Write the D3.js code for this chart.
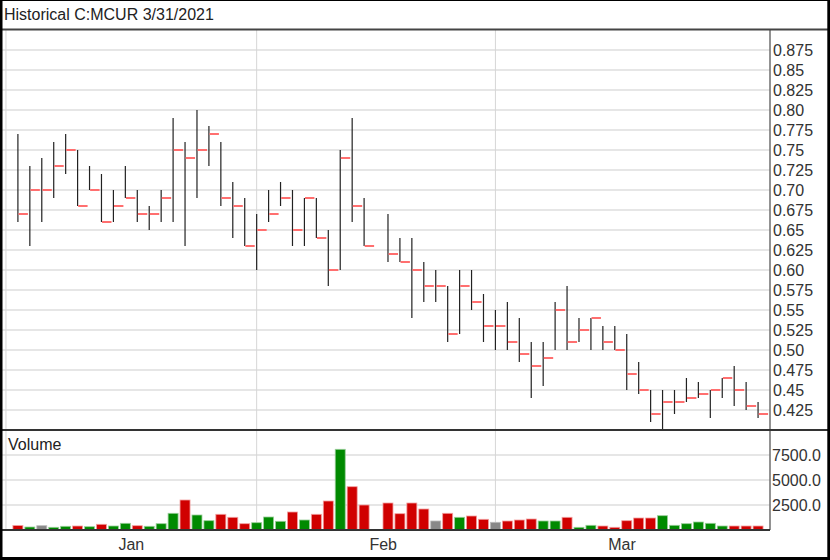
<!DOCTYPE html>
<html>
<head>
<meta charset="utf-8">
<script src="https://cdn.jsdelivr.net/npm/d3@7"></script>
<style>
  html, body { margin: 0; padding: 0; background: #fff; }
  svg { display: block; }
  text { font-family: "Liberation Sans", Arial, sans-serif; }
</style>
</head>
<body>
<svg id="chart" width="830" height="560"></svg>
<script>
// ---------- DATA ----------
const title = "Historical C:MCUR 3/31/2021";
// trading slots: every weekday from 2021-01-04 to 2021-03-31 (null = no trade, Feb 15)
const highs = [0.77,0.73,0.74,0.76,0.77,0.75,0.73,0.72,0.70,0.73,
               0.70,0.68,0.70,0.79,0.76,0.80,0.78,0.76,0.71,0.69,
               0.67,0.70,0.71,0.70,0.69,0.69,0.65,0.75,0.79,0.69,
               null,0.67,0.64,0.64,0.61,0.60,0.58,0.60,0.60,0.57,
               0.55,0.56,0.54,0.51,0.51,0.56,0.58,0.54,0.54,0.53,
               0.53,0.52,0.485,0.45,0.45,0.45,0.465,0.46,0.45,0.465,
               0.48,0.46,0.435];
const lows  = [0.66,0.63,0.66,0.69,0.72,0.68,0.70,0.66,0.66,0.69,
               0.66,0.65,0.66,0.66,0.63,0.69,0.73,0.68,0.64,0.63,
               0.60,0.66,0.68,0.63,0.63,0.64,0.58,0.60,0.66,0.63,
               null,0.61,0.61,0.54,0.56,0.56,0.51,0.52,0.55,0.51,
               0.50,0.50,0.485,0.44,0.455,0.50,0.50,0.51,0.50,0.50,
               0.50,0.45,0.445,0.41,0.40,0.42,0.435,0.44,0.415,0.44,
               0.43,0.425,0.415];
const closes = [0.67,0.70,0.70,0.73,0.75,0.68,0.70,0.66,0.68,0.69,
                0.67,0.67,0.69,0.75,0.74,0.75,0.77,0.69,0.68,0.63,
                0.65,0.67,0.69,0.65,0.69,0.64,0.60,0.74,0.68,0.63,
                null,0.62,0.61,0.60,0.58,0.58,0.52,0.58,0.56,0.53,
                0.53,0.51,0.495,0.48,0.49,0.55,0.51,0.525,0.54,0.51,
                0.50,0.47,0.45,0.42,0.435,0.435,0.44,0.445,0.45,0.465,
                0.45,0.43,0.42];
const volumes = [450,300,430,270,370,400,330,570,400,670,
                 430,370,630,1670,3000,1500,930,1570,1270,630,
                 730,1300,870,1800,1000,1570,2900,8070,4330,2500,
                 null,2700,1630,2700,2100,900,1670,1270,1400,1070,
                 770,900,1000,1100,900,900,1270,270,470,400,
                 270,930,1200,1200,1430,470,630,800,670,400,
                 400,400,400];
// u = up, d = down, n = unchanged
const volDir = ["d","u","n","u","u","d","u","d","u","u",
                "d","u","u","u","d","u","u","d","d","d",
                "u","u","u","d","u","d","d","u","d","d",
                null,"d","d","d","d","n","d","u","d","d",
                "n","d","d","d","u","u","d","u","u","d",
                "d","d","d","d","u","u","u","u","u","u",
                "d","d","d"];
const priceTicks = [0.875,0.85,0.825,0.80,0.775,0.75,0.725,0.70,0.675,0.65,0.625,
                    0.60,0.575,0.55,0.525,0.50,0.475,0.45,0.425];
const priceTickLabels = ["0.875","0.85","0.825","0.80","0.775","0.75","0.725","0.70","0.675","0.65","0.625",
                         "0.60","0.575","0.55","0.525","0.50","0.475","0.45","0.425"];
const volTicks = [7500, 5000, 2500];
const volTickLabels = ["7500.0", "5000.0", "2500.0"];
const monthLabels = ["Jan", "Feb", "Mar"];
const monthLabelSlot = [10.5, 31.6, 51.6];   // weekday slot where each month name sits

// ---------- SCALES ----------
// all weekdays of Q1 2021; slot 0 = Jan 1
const weekdays = d3.timeDay.range(new Date(2021,0,1), new Date(2021,3,1))
  .filter(d => d.getDay() !== 0 && d.getDay() !== 6);
const firstDataSlot = weekdays.findIndex(d => d.getDate() === 4 && d.getMonth() === 0);
const monthStartSlots = weekdays.map((d,i)=>({d,i}))
  .filter(o => o.i === 0 || weekdays[o.i-1].getMonth() !== o.d.getMonth()).map(o => o.i);

const W = 830, H = 560;
const plotRight = 770;
const x = d3.scaleLinear().domain([-0.5, 64]).range([0, plotRight]);
const yP = d3.scaleLinear().domain([0.40, 0.90]).range([430, 30]);
const yV = d3.scaleLinear().domain([0, 10000]).range([530, 430]);

const data = closes.map((c, k) => ({
  slot: firstDataSlot + k, high: highs[k], low: lows[k], close: c, vol: volumes[k], dir: volDir[k]
})).filter(d => d.close !== null);

const svg = d3.select("#chart");
svg.append("rect").attr("width", W).attr("height", H).attr("fill", "#fff");

const font = "16px";
const textCol = "#333";

// ---------- GRIDLINES ----------
const grid = svg.append("g");
grid.selectAll("line.hp").data(priceTicks).join("line")
  .attr("x1", 0).attr("x2", plotRight)
  .attr("y1", d => yP(d)).attr("y2", d => yP(d))
  .attr("stroke", "#e6e6e6").attr("stroke-width", 2);
grid.selectAll("line.hv").data(volTicks).join("line")
  .attr("x1", 0).attr("x2", plotRight)
  .attr("y1", d => yV(d)).attr("y2", d => yV(d))
  .attr("stroke", "#e6e6e6").attr("stroke-width", 2);
grid.selectAll("line.v").data(monthStartSlots).join("line")
  .attr("x1", d => x(d)).attr("x2", d => x(d))
  .attr("y1", 30).attr("y2", 530)
  .attr("stroke", "#d6d6d6").attr("stroke-width", 1);

// ---------- PRICE BARS ----------
const bars = svg.append("g");
bars.selectAll("line.hl").data(data).join("line")
  .attr("x1", d => x(d.slot)).attr("x2", d => x(d.slot))
  .attr("y1", d => yP(d.high)).attr("y2", d => yP(d.low))
  .attr("stroke", "#222").attr("stroke-width", 1.2);
bars.selectAll("line.cl").data(data).join("line")
  .attr("x1", d => x(d.slot) + 0.6).attr("x2", d => x(d.slot) + 10)
  .attr("y1", d => yP(d.close)).attr("y2", d => yP(d.close))
  .attr("stroke", "#ff6f6f").attr("stroke-width", 2);

// ---------- VOLUME BARS ----------
const fillFor = { u: "#008a00", d: "#d00000", n: "#888888" };
const strokeFor = { u: "#9acd9a", d: "#f2a0a0", n: "#bbbbbb" };
svg.append("g").selectAll("rect").data(data).join("rect")
  .attr("x", d => x(d.slot) - 5)
  .attr("width", 10)
  .attr("y", d => yV(d.vol))
  .attr("height", d => yV(0) - yV(d.vol))
  .attr("fill", d => fillFor[d.dir])
  .attr("stroke", d => strokeFor[d.dir]).attr("stroke-width", 0.8);

// ---------- AXES / FRAME LINES ----------
svg.append("line").attr("x1", plotRight).attr("x2", plotRight).attr("y1", 30).attr("y2", 530)
  .attr("stroke", "#6e6e6e").attr("stroke-width", 1.5);
svg.append("line").attr("x1", 0).attr("x2", plotRight).attr("y1", yV(0)).attr("y2", yV(0))
  .attr("stroke", "#333").attr("stroke-width", 2);
svg.append("line").attr("x1", 0).attr("x2", W).attr("y1", 430).attr("y2", 430)
  .attr("stroke", "#333").attr("stroke-width", 2);
svg.append("line").attr("x1", 0).attr("x2", W).attr("y1", 29.5).attr("y2", 29.5)
  .attr("stroke", "#444").attr("stroke-width", 2);

// price axis labels
svg.append("g").selectAll("text").data(priceTicks).join("text")
  .attr("x", 773).attr("y", d => yP(d)).attr("dy", "0.35em")
  .attr("font-size", font).attr("fill", textCol)
  .text((d, i) => priceTickLabels[i]);
// volume axis labels
svg.append("g").selectAll("text").data(volTicks).join("text")
  .attr("x", 772).attr("y", d => yV(d)).attr("dy", "0.35em")
  .attr("font-size", font).attr("fill", textCol)
  .text((d, i) => volTickLabels[i]);
// month labels
svg.append("g").selectAll("text").data(monthLabels).join("text")
  .attr("x", (d, i) => x(monthLabelSlot[i])).attr("y", 550)
  .attr("text-anchor", "middle")
  .attr("font-size", font).attr("fill", textCol)
  .text(d => d);

// titles
svg.append("text").attr("x", 4).attr("y", 20).attr("font-size", font).attr("fill", "#222").text(title);
svg.append("text").attr("x", 8).attr("y", 450).attr("font-size", font).attr("fill", "#222").text("Volume");

// outer border
const border = svg.append("g").attr("fill", "#000");
border.append("rect").attr("x", 0).attr("y", 0).attr("width", W).attr("height", 1);
border.append("rect").attr("x", 0).attr("y", 0).attr("width", 2.5).attr("height", H);
border.append("rect").attr("x", W - 2.7).attr("y", 0).attr("width", 2.7).attr("height", H);
border.append("rect").attr("x", 0).attr("y", H - 3).attr("width", W).attr("height", 3);
</script>
</body>
</html>
